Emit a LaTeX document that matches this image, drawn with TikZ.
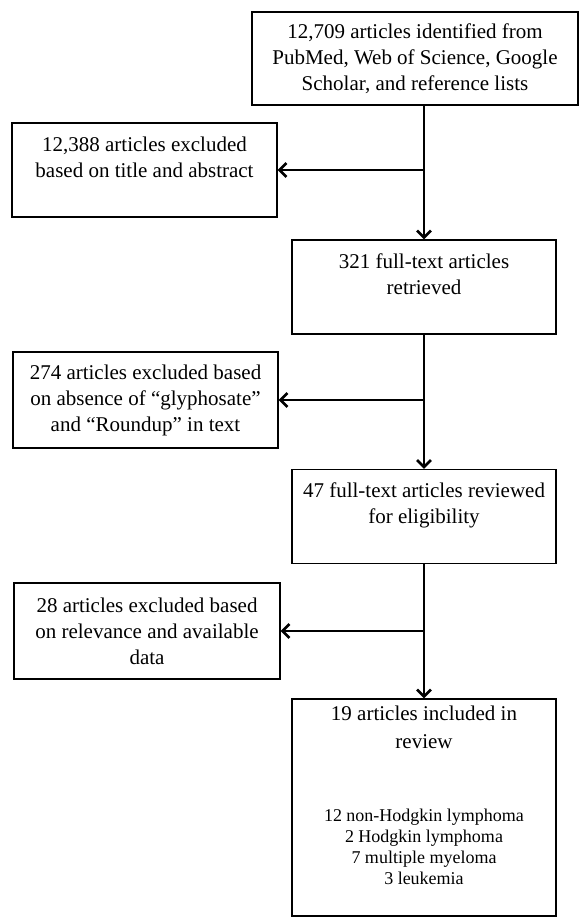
\documentclass[tikz,border=0pt]{standalone}
\usepackage{fontspec}
\setmainfont{Liberation Serif}
\usetikzlibrary{arrows.meta}

\begin{document}
\begin{tikzpicture}[x=1pt, y=-1pt,
    box/.style={draw, line width=1.2pt, minimum width=264pt, minimum height=94pt, align=center, inner sep=2pt, font=\fontsize{21}{26}\selectfont},
    flow/.style={line width=2.8pt, -{Straight Barb[length=7pt, width=14pt, line width=2.6pt]}}
]
    \useasboundingbox (0,0) rectangle (579,918);

    % Main column
    \node[box, minimum width=326pt, minimum height=93pt] (ident) at (415,58.5) {12,709 articles identified from\\PubMed, Web of Science, Google\\Scholar, and reference lists};
    \node[box] (full) at (424,287) {321 full-text articles\\retrieved\\~};
    \node[box] (elig) at (424,516.5) {47 full-text articles reviewed\\for eligibility\\~};
    \node[box, minimum height=217pt] (incl) at (424,807.5) {};
    \node[anchor=north, align=center, inner sep=0pt, font=\fontsize{21}{26}\selectfont] (incltxt) at ([yshift=-7pt]incl.north) {19 articles included in\\[2pt]review\\[47pt]{\fontsize{18}{21}\selectfont 12 non-Hodgkin lymphoma}\\[-5pt]{\fontsize{18}{21}\selectfont 2 Hodgkin lymphoma}\\[-5pt]{\fontsize{18}{21}\selectfont 7 multiple myeloma}\\[-5pt]{\fontsize{18}{21}\selectfont 3 leukemia}};

    % Exclusions
    \node[box, minimum width=265pt] (excl1) at (144.5,170) {12,388 articles excluded\\based on title and abstract\\~};
    \node[box, minimum width=265pt, minimum height=96pt] (excl2) at (145.5,400) {274 articles excluded based\\on absence of “glyphosate”\\and “Roundup” in text};
    \node[box, minimum width=266pt, minimum height=96pt] (excl3) at (147,631) {28 articles excluded based\\on relevance and available\\data};

    % Arrows
    \draw[flow] (ident.south -| full.north) -- (full.north);
    \draw[flow] (excl1.east -| full.north) -- (excl1.east);
    \draw[flow] (full.south) -- (elig.north);
    \draw[flow] (excl2.east -| full.south) -- (excl2.east);
    \draw[flow] (elig.south) -- (incl.north);
    \draw[flow] (excl3.east -| elig.south) -- (excl3.east);
\end{tikzpicture}
\end{document}
